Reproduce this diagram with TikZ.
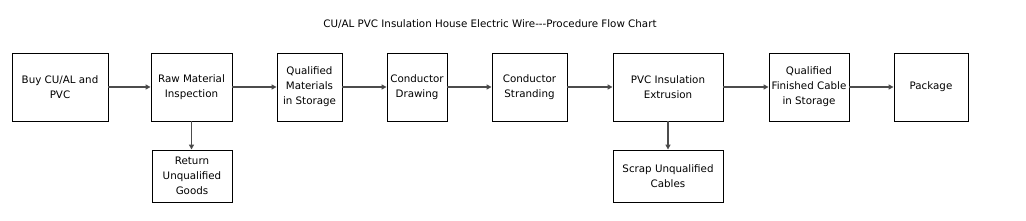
\documentclass[tikz,border=0pt]{standalone}
\usepackage{fontspec}
\setmainfont{DejaVu Sans}
\usetikzlibrary{arrows.meta}
\begin{document}
\begin{tikzpicture}[x=1pt,y=-1pt,
  box/.style={draw=black,line width=0.9pt,align=center,inner sep=0pt,font=\fontsize{10.3}{15}\selectfont},
  flow/.style={draw=black!70,line width=1.3pt,-{Triangle[length=5pt,width=5pt,fill=black]}},
]
\useasboundingbox (0,0) rectangle (1026,221);
\node[font=\fontsize{10.3}{12}\selectfont] (title) at (490,24) {CU/AL PVC Insulation House Electric Wire{-}{-}{-}Procedure Flow Chart};
\newcommand{\bx}[6]{\node[box,minimum width=#4-#3,minimum height=#6-#5] (#1) at ({(#3+#4)/2},{(#5+#6)/2}) {#2};}
\bx{b1}{Buy CU/AL and\\PVC}{12}{108}{53}{121}
\bx{b2}{Raw Material\\Inspection}{151}{232}{53}{121}
\bx{b3}{Qualified\\Materials\\in Storage}{277}{342}{53}{121}
\bx{b4}{Conductor\\Drawing}{387}{447}{53}{121}
\bx{b5}{Conductor\\Stranding}{492}{567}{53}{121}
\bx{b6}{PVC Insulation\\Extrusion}{613}{723}{53}{121}
\bx{b7}{Qualified\\Finished Cable\\in Storage}{769}{849}{53}{121}
\bx{b8}{Package}{894}{968}{53}{121}
\bx{r1}{Return\\Unqualified\\Goods}{152}{232}{150}{202}
\bx{s1}{Scrap Unqualified\\Cables}{613}{723}{150}{202}
\draw[flow] (b1) -- (b2);
\draw[flow] (b2) -- (b3);
\draw[flow] (b3) -- (b4);
\draw[flow] (b4) -- (b5);
\draw[flow] (b5) -- (b6);
\draw[flow] (b6) -- (b7);
\draw[flow] (b7) -- (b8);
\draw[flow] (b2.south) -- (b2.south |- r1.north);
\draw[flow] (b6.south) -- (b6.south |- s1.north);
\end{tikzpicture}
\end{document}
